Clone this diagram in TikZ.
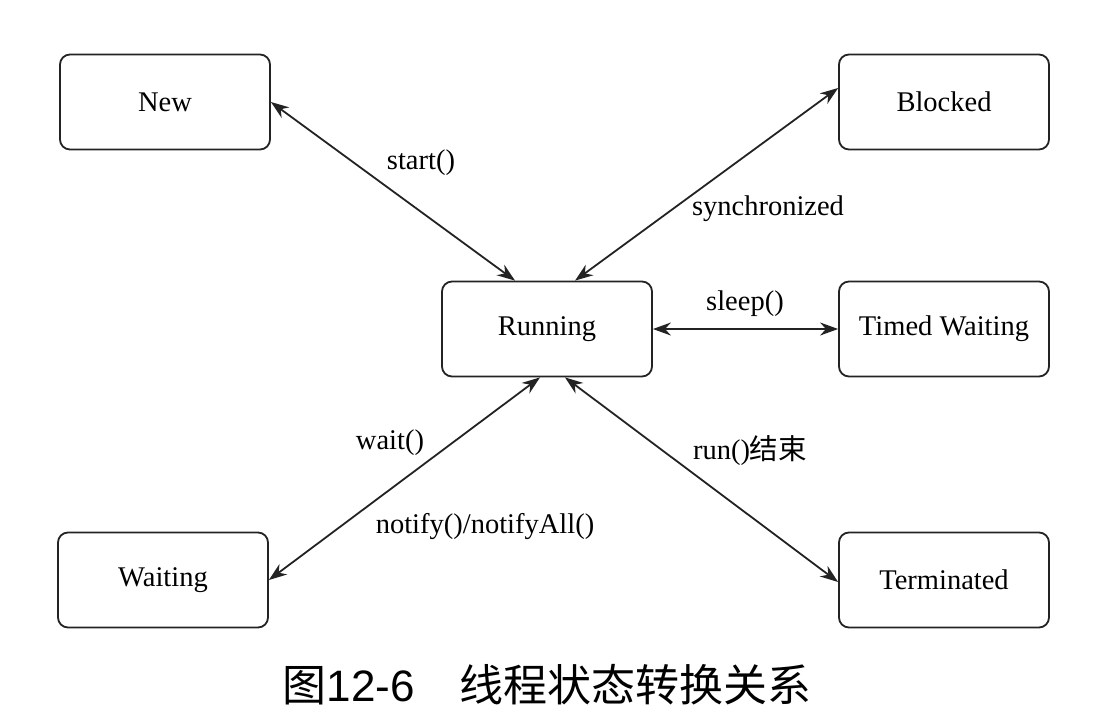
\documentclass[tikz,border=0pt]{standalone}
\usepackage{fontspec}
\setmainfont{Liberation Serif}
\newfontfamily\cjk{Noto Sans CJK SC}
\newfontfamily\capfont{Liberation Sans}
\usepackage{tikz}
\usetikzlibrary{arrows.meta, positioning}
\definecolor{linegray}{RGB}{35,35,35}
\tikzset{
  state/.style={rectangle, draw=linegray, line width=1.8pt,
                minimum width=210pt, minimum height=95pt,
                text centered, rounded corners=10pt, font=\fontsize{28.5}{32}\selectfont},
  biarr/.style={{Stealth[length=18pt,width=13pt]}-{Stealth[length=18pt,width=13pt]},
                line width=1.8pt, color=linegray},
  lbl/.style={font=\fontsize{28.5}{32}\selectfont, inner sep=0pt}
}

\begin{document}
\begin{tikzpicture}[x=1pt, y=-1pt]
  \useasboundingbox (0,0) rectangle (1119,715);

  % States
  \node[state] (new)    at (165,102) {New};
  \node[state] (run)    at (547,329) {Running};
  \node[state] (block)  at (944,102) {Blocked};
  \node[state] (timed)  at (944,329) {Timed Waiting};
  \node[state] (wait)   at (163,580) {Waiting};
  \node[state] (term)   at (944,580) {Terminated};

  % Transitions
  \draw[biarr] (new.east) -- ([xshift=-32pt]run.north);
  \draw[biarr] ([yshift=14pt]block.west) -- ([xshift=28pt]run.north);
  \draw[biarr] (run.east) -- (timed.west);
  \draw[biarr] ([xshift=-7pt]run.south) -- (wait.east);
  \draw[biarr] ([xshift=18pt]run.south) -- ([yshift=-2pt]term.west);

  % Labels
  \node[lbl] (lstart) at (421,163) {start()};
  \node[lbl] (lsync)  at (768,209) {synchronized};
  \node[lbl] (lsleep) at (745,304) {sleep()};
  \node[lbl] (lwait)  at (390,443) {wait()};
  \node[lbl] (lnote)  at (485,527) {notify()/notifyAll()};
  \node[lbl] (lend)   at (750,451) {run(){\cjk 结束}};

  % Caption
  \node[inner sep=0pt, font=\fontsize{44}{50}\selectfont] (cap) at (547,685)
    {{\cjk 图}\capfont 12-6\hspace{44pt}{\cjk 线程状态转换关系}};
\end{tikzpicture}
\end{document}
